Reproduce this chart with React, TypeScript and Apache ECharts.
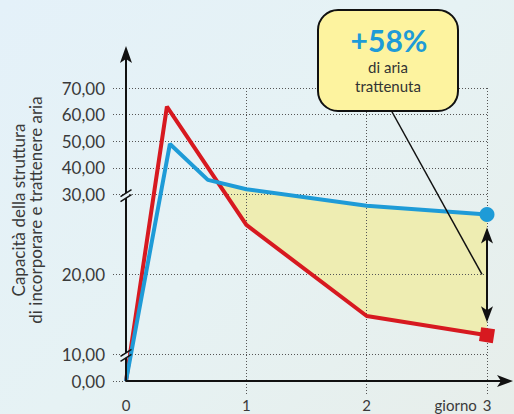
import React, { useEffect, useRef } from 'react';
import * as echarts from 'echarts';

// ---- data ----
const xTickValues = [0, 1, 2, 3];
const xTickLabels = ['0', '1', '2', 'giorno 3'];
const yTickValues = [0, 10, 20, 30, 40, 50, 60, 70];
const yTickLabels = ['0,00', '10,00', '20,00', '30,00', '40,00', '50,00', '60,00', '70,00'];
const axisBreaks = [10, 30];
const redDays = [0, 0.34, 1, 2, 3];
const redValues = [0, 63, 26.2, 14.8, 12.4];
const blueDays = [0, 0.365, 0.68, 1, 2, 3];
const blueValues = [0, 49, 35.5, 32, 28.6, 27.5];
const yAxisTitle = ['Capacità della struttura', 'di incorporare e trattenere aria'];
const calloutValue = '+58%';
const calloutLines = ['di aria', 'trattenuta'];

// ---- broken-axis piecewise scale ----
const scaleIn = [0, 10, 30, 70];
const scaleOut = [0, 1, 7, 11];
function toDisp(v: number): number {
  for (let i = 0; i < scaleIn.length - 1; i++) {
    if (v <= scaleIn[i + 1] || i === scaleIn.length - 2) {
      const t = (v - scaleIn[i]) / (scaleIn[i + 1] - scaleIn[i]);
      return scaleOut[i] + t * (scaleOut[i + 1] - scaleOut[i]);
    }
  }
  return 0;
}
function interp(xs: number[], ys: number[], x: number): number {
  for (let i = 0; i < xs.length - 1; i++) {
    if (x >= xs[i] && x <= xs[i + 1]) {
      const t = (x - xs[i]) / (xs[i + 1] - xs[i]);
      return ys[i] + t * (ys[i + 1] - ys[i]);
    }
  }
  return ys[ys.length - 1];
}

const RED = '#D71920';
const BLUE = '#1E9BD7';
const BAND = '#EEEDB2';
const INK = '#111111';
const GRID = '#555555';
const TXT = '#3a3a3a';
const BG = '#E6F1F5';
const FONT = 'Lato, "Open Sans", sans-serif';

export default function App() {
  const ref = useRef<HTMLDivElement>(null);
  useEffect(() => {
    if (!ref.current) return;
    const chart = echarts.init(ref.current, undefined, { renderer: 'svg' });
    const W = 514;

    const redD = redValues.map(toDisp);
    const blueD = blueValues.map(toDisp);
    // find crossing of blue above red after peaks
    const xs = Array.from(new Set([...redDays, ...blueDays])).sort((a, b) => a - b);
    let cross = 1;
    for (let i = 0; i < xs.length - 1; i++) {
      const a = xs[i], b = xs[i + 1];
      if (a < 0.3) continue;
      const da = interp(blueDays, blueD, a) - interp(redDays, redD, a);
      const db = interp(blueDays, blueD, b) - interp(redDays, redD, b);
      if (da < 0 && db >= 0) {
        cross = a + (b - a) * (-da / (db - da));
        break;
      }
    }
    const band: number[][] = [[cross, interp(blueDays, blueD, cross)]];
    blueDays.forEach((d, i) => { if (d > cross) band.push([d, blueD[i]]); });
    for (let i = redDays.length - 1; i >= 0; i--) {
      if (redDays[i] > cross) band.push([redDays[i], redD[i]]);
    }

    const lastR = redDays.length - 1;
    const lastB = blueDays.length - 1;

    chart.setOption({
      animation: false,
      grid: { left: 126, top: 88, right: 27, bottom: 33, containLabel: false, outerBoundsMode: 'none' },
      xAxis: {
        type: 'value', min: 0, max: 3, interval: 1, z: 3,
        axisLine: { show: false },
        axisTick: {
          show: true, length: 14, customValues: [1, 2, 3],
          lineStyle: { color: GRID, width: 1, type: [1, 2] },
        },
        splitLine: { show: true, lineStyle: { color: GRID, width: 1, type: [1, 2] } },
        axisLabel: {
          customValues: xTickValues, margin: 15,
          color: TXT, fontFamily: FONT, fontSize: 15, lineHeight: 17,
          formatter: (v: number) => {
            const i = xTickValues.findIndex((t) => Math.abs(t - v) < 1e-6);
            const s = xTickLabels[i] ?? '';
            const parts = s.split(' ');
            if (parts.length > 1) {
              return `{g|${parts[0]}}{n|${parts[1]}}{p|}`;
            }
            return s;
          },
          rich: {
            g: { width: 46, align: 'right', fontFamily: FONT, fontSize: 15, color: TXT, lineHeight: 17 },
            n: { padding: [0, 0, 0, 4], fontFamily: FONT, fontSize: 15, color: TXT, lineHeight: 17 },
            p: { width: 50, lineHeight: 17 },
          },
        },
      },
      yAxis: {
        type: 'value', min: 0, max: 11, interval: 1, z: 3,
        axisLine: { show: false },
        axisTick: {
          show: true, length: 13, customValues: yTickValues.map(toDisp),
          lineStyle: { color: GRID, width: 1, type: [1, 2] },
        },
        splitLine: { show: true, lineStyle: { color: GRID, width: 1, type: [1, 2] } },
        axisLabel: {
          customValues: yTickValues.map(toDisp), margin: 21,
          color: TXT, fontFamily: FONT, fontSize: 17,
          formatter: (v: number) => {
            const i = yTickValues.findIndex((t) => Math.abs(toDisp(t) - v) < 1e-6);
            return yTickLabels[i] ?? '';
          },
        },
      },
      series: [
        {
          type: 'custom', z: 1, silent: true,
          renderItem: (params: any, api: any) => ({
            type: 'polygon',
            shape: { points: band.map((p) => api.coord(p)) },
            style: { fill: BAND },
          }),
          data: [[0, 0]],
        },
        {
          type: 'line', z: 5, symbol: 'none', showSymbol: true, showAllSymbol: true,
          lineStyle: { color: RED, width: 4 }, itemStyle: { color: RED },
          data: redDays.map((d, i) =>
            i === lastR
              ? { value: [d, redD[i]], symbol: 'rect', symbolSize: 14, symbolRotate: -9 }
              : { value: [d, redD[i]], symbol: 'none' }),
        },
        {
          type: 'line', z: 6, symbol: 'none', showSymbol: true, showAllSymbol: true,
          lineStyle: { color: BLUE, width: 4 }, itemStyle: { color: BLUE },
          data: blueDays.map((d, i) =>
            i === lastB
              ? { value: [d, blueD[i]], symbol: 'circle', symbolSize: 15 }
              : { value: [d, blueD[i]], symbol: 'none' }),
        },
      ],
    });

    const px = (x: number, y: number) => chart.convertToPixel({ gridIndex: 0 }, [x, y]) as number[];
    const o = px(0, 0);
    const x3 = px(3, 0)[0];
    const yBlue3 = px(3, blueD[lastB])[1];
    const yRed3 = px(3, redD[lastR])[1];
    const y20 = px(0, toDisp(20))[1];
    const g: any[] = [];
    // x axis
    g.push({ type: 'line', z: 20, shape: { x1: o[0], y1: o[1], x2: W - 6, y2: o[1] }, style: { stroke: INK, lineWidth: 2 } });
    g.push({ type: 'polygon', z: 20, shape: { points: [[W - 1, o[1]], [W - 17, o[1] - 6], [W - 13, o[1]], [W - 17, o[1] + 6]] }, style: { fill: INK } });
    // y axis
    g.push({ type: 'line', z: 20, shape: { x1: o[0], y1: o[1], x2: o[0], y2: 56 }, style: { stroke: INK, lineWidth: 2 } });
    g.push({ type: 'polygon', z: 20, shape: { points: [[o[0], 46], [o[0] - 6, 63], [o[0], 59], [o[0] + 6, 63]] }, style: { fill: INK } });
    // axis breaks
    axisBreaks.forEach((b) => {
      const cy = px(0, toDisp(b))[1] + 1;
      const cx = o[0];
      g.push({ type: 'rect', z: 21, shape: { x: cx - 2, y: cy - 2.5, width: 4, height: 5 }, style: { fill: BG } });
      g.push({ type: 'line', z: 22, shape: { x1: cx - 5.5, y1: cy + 1, x2: cx + 5.5, y2: cy - 6 }, style: { stroke: INK, lineWidth: 1.5 } });
      g.push({ type: 'line', z: 22, shape: { x1: cx - 5.5, y1: cy + 6, x2: cx + 5.5, y2: cy - 1 }, style: { stroke: INK, lineWidth: 1.5 } });
    });
    // double arrow
    const at = yBlue3 + 13, ab = yRed3 - 13;
    g.push({ type: 'line', z: 20, shape: { x1: x3, y1: at + 8, x2: x3, y2: ab - 8 }, style: { stroke: INK, lineWidth: 2 } });
    g.push({ type: 'polygon', z: 20, shape: { points: [[x3, at], [x3 - 6, at + 16], [x3, at + 12], [x3 + 6, at + 16]] }, style: { fill: INK } });
    g.push({ type: 'polygon', z: 20, shape: { points: [[x3, ab], [x3 - 6, ab - 16], [x3, ab - 12], [x3 + 6, ab - 16]] }, style: { fill: INK } });
    // connector
    g.push({ type: 'line', z: 20, shape: { x1: 391, y1: 110, x2: x3 - 5, y2: y20 }, style: { stroke: INK, lineWidth: 1.5 } });
    // callout
    g.push({ type: 'rect', z: 30, shape: { x: 318, y: 10, width: 140, height: 101, r: 20 }, style: { fill: '#FDF39F', stroke: INK, lineWidth: 2 } });
    g.push({ type: 'text', z: 31, x: 389, y: 40, style: { text: calloutValue, align: 'center', verticalAlign: 'middle', fill: BLUE, fontFamily: FONT, fontWeight: 'bold', fontSize: 30 } });
    g.push({ type: 'text', z: 31, x: 388, y: 67, style: { text: calloutLines[0], align: 'center', verticalAlign: 'middle', fill: '#333', fontFamily: FONT, fontSize: 15 } });
    g.push({ type: 'text', z: 31, x: 388, y: 85.5, style: { text: calloutLines[1], align: 'center', verticalAlign: 'middle', fill: '#333', fontFamily: FONT, fontSize: 15 } });
    // y axis title
    g.push({ type: 'text', z: 20, x: 18, y: 210, rotation: Math.PI / 2, style: { text: yAxisTitle[0], align: 'center', verticalAlign: 'middle', fill: TXT, font: `17px ${FONT}` } });
    g.push({ type: 'text', z: 20, x: 35, y: 210, rotation: Math.PI / 2, style: { text: yAxisTitle[1], align: 'center', verticalAlign: 'middle', fill: TXT, font: `17px ${FONT}` } });
    chart.setOption({ graphic: g });

    return () => chart.dispose();
  }, []);
  return (
    <div
      ref={ref}
      style={{
        position: 'fixed', left: 0, top: 0, width: 514, height: 414,
        background: 'linear-gradient(135deg, #E4F1F9 0%, #E6F2F4 50%, #E7EEEA 100%)',
      }}
    />
  );
}
